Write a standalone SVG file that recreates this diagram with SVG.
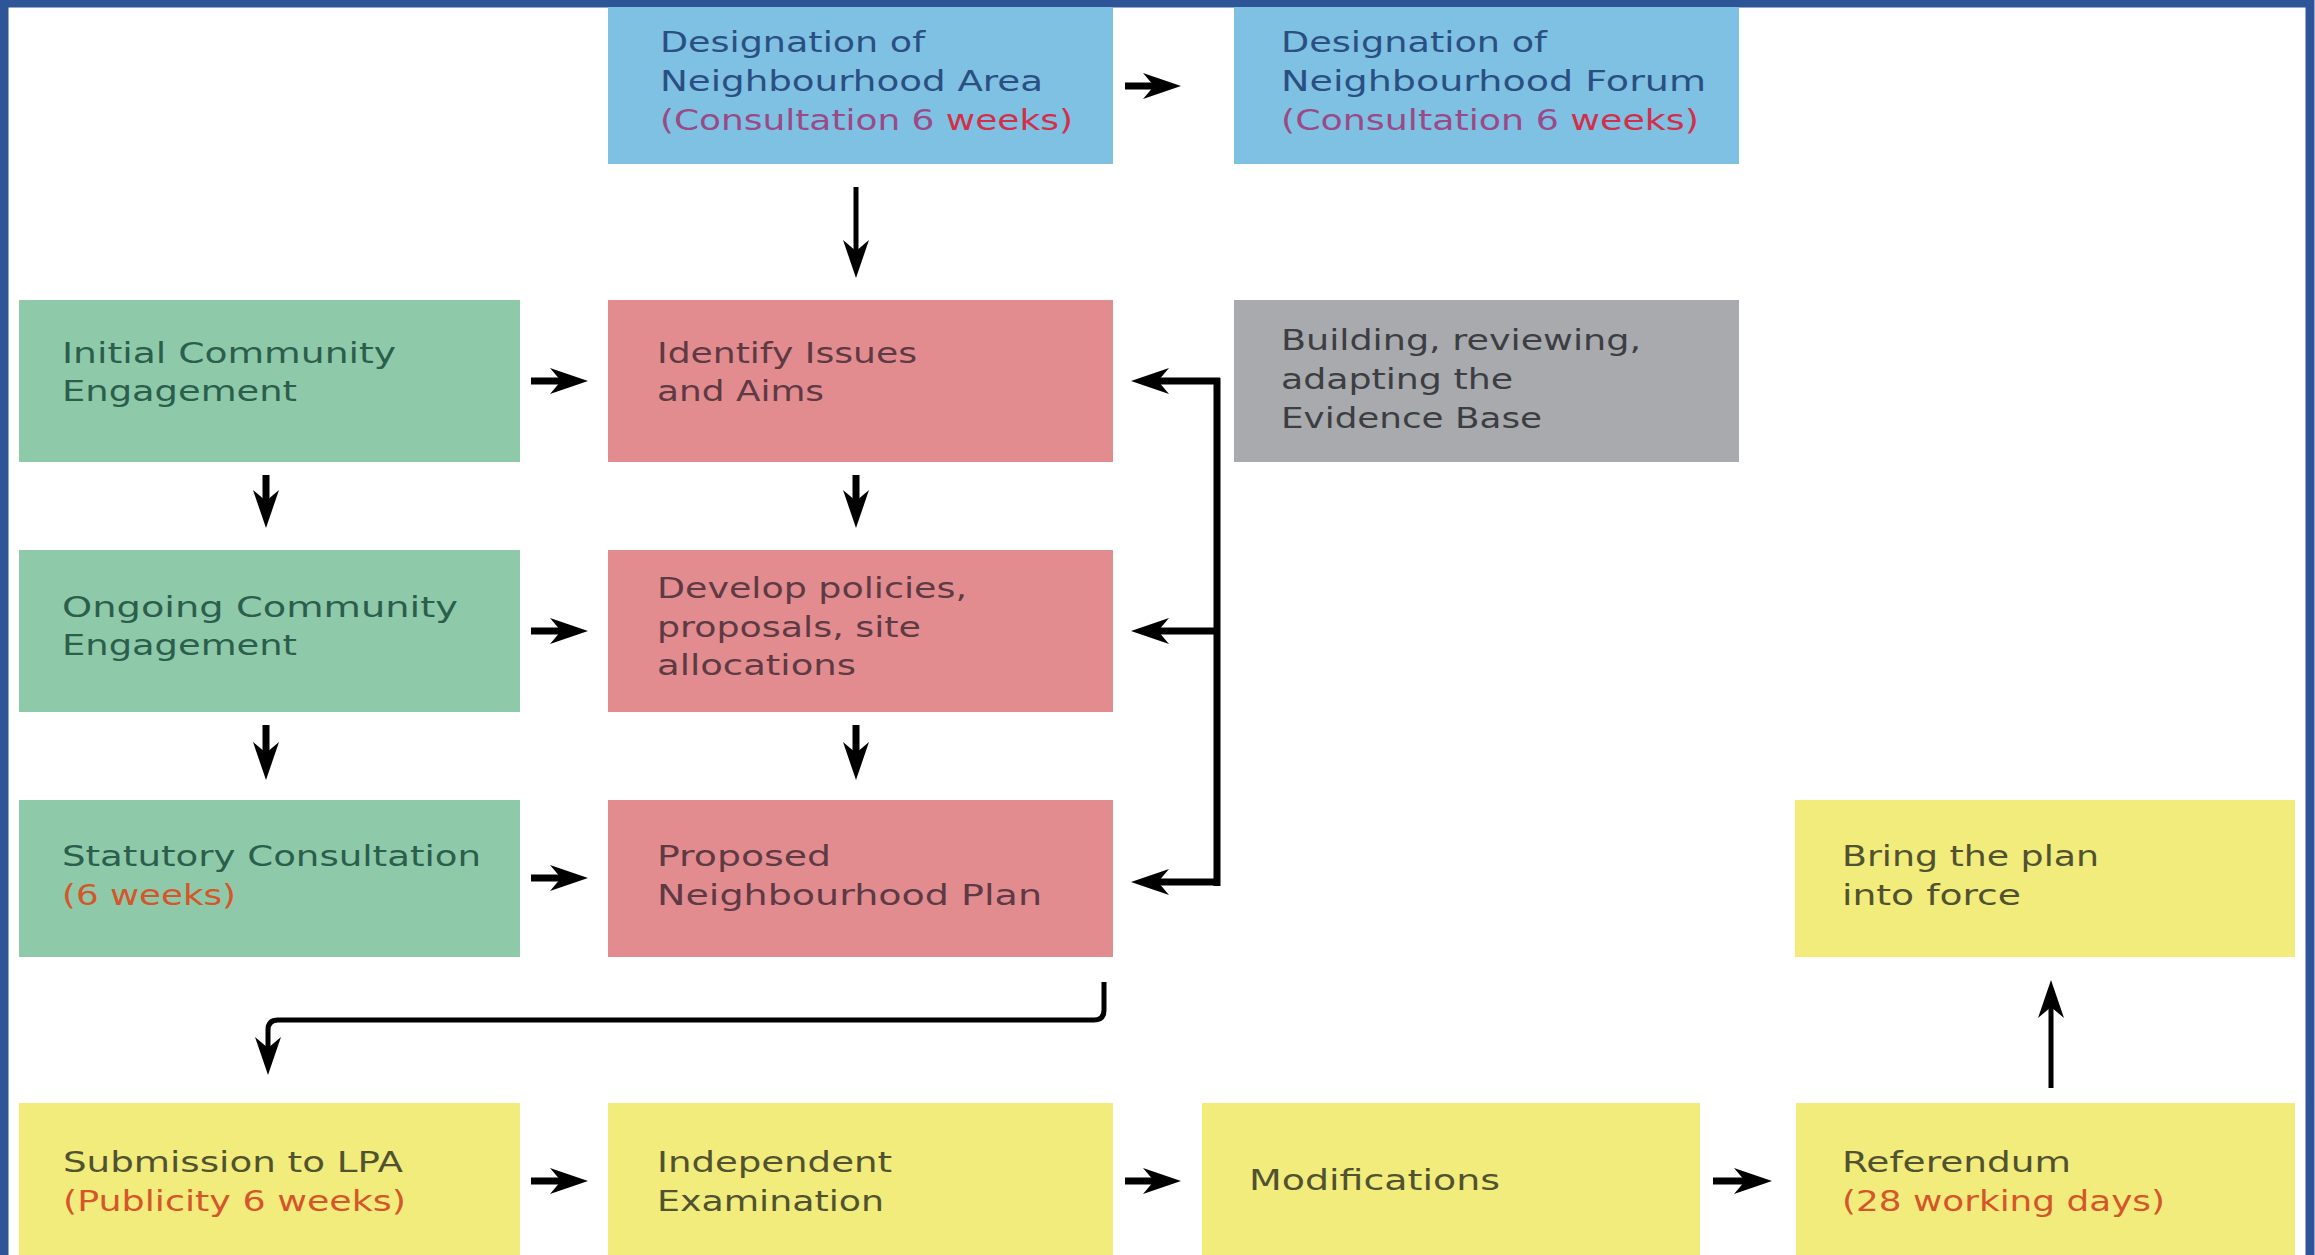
<svg xmlns="http://www.w3.org/2000/svg" width="2315" height="1255" viewBox="0 0 2315 1255">
<style>
.t{font-family:"DejaVu Sans","Liberation Sans",sans-serif;font-size:28px}
.blue rect{fill:#7fc1e3}.blue text{fill:#2b4f82}
.green rect{fill:#8ecaa9}.green text{fill:#2b5e4c}
.pink rect{fill:#e38c8f}.pink text{fill:#5e3a44}
.grey rect{fill:#a8aaae}.grey text{fill:#3c3e42}
.yellow rect{fill:#f2ec7c}.yellow text{fill:#505230}
g text.red{fill:#d4562a}
.mag{fill:#9a4a86}.rd{fill:#d2304a}
.c{stroke:#000;fill:none}
.thick{stroke-width:7}
.thin{stroke-width:5}
</style>
<defs>
<marker id="ah" markerUnits="userSpaceOnUse" viewBox="-20 -15 42 30" markerWidth="42" markerHeight="30" refX="0" refY="0" orient="auto">
<path d="M20,0 L-18,-13 L-7,0 L-18,13 Z" fill="#000"/>
</marker>
</defs>
<rect x="0" y="0" width="2315" height="1255" fill="#fff"/>
<path d="M4,1255 V3 H2310 V1255" fill="none" stroke="#2d5597" stroke-width="9"/>

<g id="n-area" class="blue">
<rect x="608" y="7" width="505" height="157"/>
<text class="t" x="660" y="52" textLength="265" lengthAdjust="spacingAndGlyphs">Designation of</text>
<text class="t" x="660" y="91" textLength="383" lengthAdjust="spacingAndGlyphs">Neighbourhood Area</text>
<text class="t" x="660" y="130" textLength="413" lengthAdjust="spacingAndGlyphs"><tspan class="mag">(Consultation 6 </tspan><tspan class="rd">weeks)</tspan></text>
</g>
<g id="n-forum" class="blue">
<rect x="1234" y="7" width="505" height="157"/>
<text class="t" x="1281" y="52" textLength="266" lengthAdjust="spacingAndGlyphs">Designation of</text>
<text class="t" x="1281" y="91" textLength="425" lengthAdjust="spacingAndGlyphs">Neighbourhood Forum</text>
<text class="t" x="1281" y="130" textLength="418" lengthAdjust="spacingAndGlyphs"><tspan class="mag">(Consultation 6 </tspan><tspan class="rd">weeks)</tspan></text>
</g>

<g id="n-initial" class="green">
<rect x="19" y="300" width="501" height="162"/>
<text class="t" x="62" y="363" textLength="334" lengthAdjust="spacingAndGlyphs">Initial Community</text>
<text class="t" x="62" y="401" textLength="235" lengthAdjust="spacingAndGlyphs">Engagement</text>
</g>
<g id="n-issues" class="pink">
<rect x="608" y="300" width="505" height="162"/>
<text class="t" x="657" y="363" textLength="260" lengthAdjust="spacingAndGlyphs">Identify Issues</text>
<text class="t" x="657" y="401" textLength="167" lengthAdjust="spacingAndGlyphs">and Aims</text>
</g>
<g id="n-evidence" class="grey">
<rect x="1234" y="300" width="505" height="162"/>
<text class="t" x="1281" y="350" textLength="360" lengthAdjust="spacingAndGlyphs">Building, reviewing,</text>
<text class="t" x="1281" y="389" textLength="232" lengthAdjust="spacingAndGlyphs">adapting the</text>
<text class="t" x="1281" y="428" textLength="261" lengthAdjust="spacingAndGlyphs">Evidence Base</text>
</g>

<g id="n-ongoing" class="green">
<rect x="19" y="550" width="501" height="162"/>
<text class="t" x="62" y="617" textLength="396" lengthAdjust="spacingAndGlyphs">Ongoing Community</text>
<text class="t" x="62" y="655" textLength="235" lengthAdjust="spacingAndGlyphs">Engagement</text>
</g>
<g id="n-policies" class="pink">
<rect x="608" y="550" width="505" height="162"/>
<text class="t" x="657" y="598" textLength="310" lengthAdjust="spacingAndGlyphs">Develop policies,</text>
<text class="t" x="657" y="637" textLength="264" lengthAdjust="spacingAndGlyphs">proposals, site</text>
<text class="t" x="657" y="675" textLength="199" lengthAdjust="spacingAndGlyphs">allocations</text>
</g>

<g id="n-statutory" class="green">
<rect x="19" y="800" width="501" height="157"/>
<text class="t" x="62" y="866" textLength="419" lengthAdjust="spacingAndGlyphs">Statutory Consultation</text>
<text class="t red" x="62" y="905" textLength="174" lengthAdjust="spacingAndGlyphs">(6 weeks)</text>
</g>
<g id="n-proposed" class="pink">
<rect x="608" y="800" width="505" height="157"/>
<text class="t" x="657" y="866" textLength="174" lengthAdjust="spacingAndGlyphs">Proposed</text>
<text class="t" x="657" y="905" textLength="385" lengthAdjust="spacingAndGlyphs">Neighbourhood Plan</text>
</g>
<g id="n-force" class="yellow">
<rect x="1795" y="800" width="500" height="157"/>
<text class="t" x="1842" y="866" textLength="257" lengthAdjust="spacingAndGlyphs">Bring the plan</text>
<text class="t" x="1842" y="905" textLength="179" lengthAdjust="spacingAndGlyphs">into force</text>
</g>

<g id="n-submission" class="yellow">
<rect x="19" y="1103" width="501" height="152"/>
<text class="t" x="63" y="1172" textLength="340" lengthAdjust="spacingAndGlyphs">Submission to LPA</text>
<text class="t red" x="63" y="1211" textLength="343" lengthAdjust="spacingAndGlyphs">(Publicity 6 weeks)</text>
</g>
<g id="n-exam" class="yellow">
<rect x="608" y="1103" width="505" height="152"/>
<text class="t" x="657" y="1172" textLength="235" lengthAdjust="spacingAndGlyphs">Independent</text>
<text class="t" x="657" y="1211" textLength="227" lengthAdjust="spacingAndGlyphs">Examination</text>
</g>
<g id="n-mods" class="yellow">
<rect x="1202" y="1103" width="498" height="152"/>
<text class="t" x="1249" y="1190" textLength="251" lengthAdjust="spacingAndGlyphs">Modifications</text>
</g>
<g id="n-referendum" class="yellow">
<rect x="1796" y="1103" width="499" height="152"/>
<text class="t" x="1842" y="1172" textLength="229" lengthAdjust="spacingAndGlyphs">Referendum</text>
<text class="t red" x="1842" y="1211" textLength="323" lengthAdjust="spacingAndGlyphs">(28 working days)</text>
</g>

<g id="connectors">
<path class="c thick" d="M1125,86 H1161" marker-end="url(#ah)"/>
<path class="c thin" d="M856,187 V258" marker-end="url(#ah)"/>
<path class="c thick" d="M531,381 H568" marker-end="url(#ah)"/>
<path class="c thick" d="M531,631 H568" marker-end="url(#ah)"/>
<path class="c thick" d="M531,878 H568" marker-end="url(#ah)"/>
<path class="c thick" d="M266,475 V508" marker-end="url(#ah)"/>
<path class="c thick" d="M856,475 V508" marker-end="url(#ah)"/>
<path class="c thick" d="M266,725 V760" marker-end="url(#ah)"/>
<path class="c thick" d="M856,725 V760" marker-end="url(#ah)"/>
<path class="c thick" d="M1217,378 V886"/>
<path class="c thick" d="M1220,381 H1151" marker-end="url(#ah)"/>
<path class="c thick" d="M1220,631 H1151" marker-end="url(#ah)"/>
<path class="c thick" d="M1220,882 H1151" marker-end="url(#ah)"/>
<path class="c thin" d="M1104,982 V1010 Q1104,1020 1094,1020 H278 Q268,1020 268,1030 V1055" marker-end="url(#ah)"/>
<path class="c thin" d="M2051,1088 V1000" marker-end="url(#ah)"/>
<path class="c thick" d="M531,1181 H568" marker-end="url(#ah)"/>
<path class="c thick" d="M1125,1181 H1161" marker-end="url(#ah)"/>
<path class="c thick" d="M1713,1181 H1752" marker-end="url(#ah)"/>
</g>
</svg>
